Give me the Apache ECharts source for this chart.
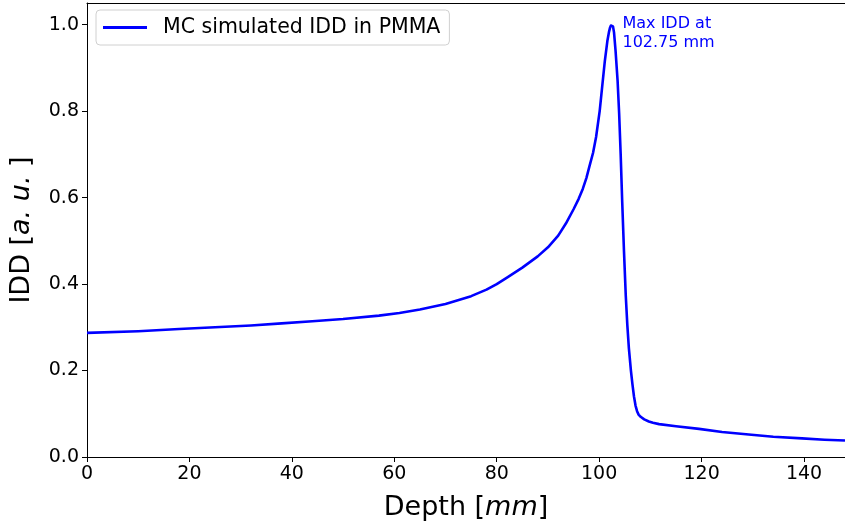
<!DOCTYPE html>
<html>
<head>
<meta charset="utf-8">
<script src="https://cdn.jsdelivr.net/npm/echarts@6/dist/echarts.min.js"></script>
<style>html,body{margin:0;padding:0;background:#fff}#c{width:845px;height:526px}</style>
</head>
<body>
<div id="c"></div>
<script>
const depth = [0, 10, 18, 25, 32, 38, 44, 50, 57, 61, 65, 70, 75, 78, 80, 82, 85, 88, 90, 92, 93.5, 95, 96, 96.8, 97.5, 98.1, 98.8, 99.4, 100.1, 100.6, 101.1, 101.6, 101.9, 102.1, 102.3, 102.5, 102.7, 102.9, 103.2, 103.6, 103.9, 104.2, 104.5, 104.85, 105.2, 105.5, 105.8, 106.2, 106.5, 106.8, 107.1, 107.4, 107.7, 108.1, 108.8, 109.7, 110.5, 111.7, 115, 119.5, 124, 129.2, 134, 139.6, 144, 148];
const idd   = [0.287, 0.291, 0.296, 0.300, 0.304, 0.309, 0.314, 0.319, 0.327, 0.333, 0.341, 0.354, 0.372, 0.387, 0.400, 0.415, 0.438, 0.464, 0.485, 0.512, 0.540, 0.573, 0.597, 0.620, 0.645, 0.672, 0.703, 0.740, 0.800, 0.858, 0.915, 0.962, 0.982, 0.992, 0.998, 1.000, 0.996, 0.982, 0.940, 0.870, 0.795, 0.700, 0.590, 0.475, 0.372, 0.305, 0.252, 0.200, 0.168, 0.140, 0.119, 0.106, 0.098, 0.093, 0.087, 0.082, 0.079, 0.076, 0.071, 0.065, 0.058, 0.052, 0.047, 0.043, 0.040, 0.038];
const xTicks = [0, 20, 40, 60, 80, 100, 120, 140];
const yTicks = [0, 0.2, 0.4, 0.6, 0.8, 1.0];
const peakDepthLabel = '102.75';

const font = 'DejaVu Sans';
const chart = echarts.init(document.getElementById('c'));
const data = depth.map((d, i) => [d, idd[i]]);
let peakIdx = 0;
idd.forEach((v, i) => { if (v > idd[peakIdx]) peakIdx = i; });

const titleRich = {
  n: { fontFamily: font, fontSize: 27, color: '#000' },
  i: { fontFamily: font, fontSize: 27, fontStyle: 'italic', color: '#000' }
};

chart.setOption({
  animation: false,
  grid: { left: 86, right: 0, top: 3, bottom: 65, containLabel: false },
  legend: {
    left: 96, top: 10,
    padding: [7, 9, 7, 7],
    borderColor: '#d0d0d0', borderWidth: 1, borderRadius: 4,
    backgroundColor: '#fff',
    itemWidth: 44, itemHeight: 3,
    icon: 'rect',
    textStyle: { fontFamily: font, fontSize: 20.5, color: '#000', padding: [0, 0, 0, 11] },
    data: ['MC simulated IDD in PMMA']
  },
  xAxis: [{
    type: 'value', min: 0, max: 148, position: 'bottom',
    name: '{n|Depth [}{i|mm}{n|]}', nameLocation: 'middle', nameGap: 37,
    nameTextStyle: { rich: titleRich },
    axisLine: { show: true, onZero: false, lineStyle: { color: '#000', width: 1 } },
    axisTick: { show: true, length: 5, lineStyle: { color: '#000' }, customValues: xTicks },
    axisLabel: { fontFamily: font, fontSize: 19, color: '#000', margin: 8, customValues: xTicks },
    splitLine: { show: false }
  }, {
    type: 'value', min: 0, max: 148, position: 'top',
    axisLine: { show: true, onZero: false, lineStyle: { color: '#000', width: 1 } },
    axisTick: { show: false }, axisLabel: { show: false }, splitLine: { show: false }
  }],
  yAxis: {
    type: 'value', min: 0, max: 1.05,
    name: '{n|IDD [}{i|a. u. }{n|]}', nameLocation: 'middle', nameGap: 52,
    nameTextStyle: { rich: titleRich },
    axisLine: { show: true, onZero: false, lineStyle: { color: '#000', width: 1 } },
    axisTick: { show: true, length: 5, lineStyle: { color: '#000' }, customValues: yTicks },
    axisLabel: { fontFamily: font, fontSize: 19, color: '#000', margin: 8, customValues: yTicks, formatter: v => v.toFixed(1) },
    splitLine: { show: false }
  },
  series: [{
    name: 'MC simulated IDD in PMMA',
    type: 'line', data: data, symbol: 'none',
    smooth: false,
    lineStyle: { color: '#0000ff', width: 2.6, join: 'round' },
    itemStyle: { color: '#0000ff' },
    markPoint: {
      symbol: 'circle', symbolSize: 1,
      itemStyle: { color: 'rgba(0,0,0,0)' },
      data: [{ coord: [depth[peakIdx], idd[peakIdx]] }],
      label: {
        show: true, position: [11, -10],
        formatter: 'Max IDD at\n' + peakDepthLabel + ' mm',
        fontFamily: font, fontSize: 16, lineHeight: 19, color: '#0000ff', align: 'left'
      }
    }
  }]
});
</script>
</body>
</html>
